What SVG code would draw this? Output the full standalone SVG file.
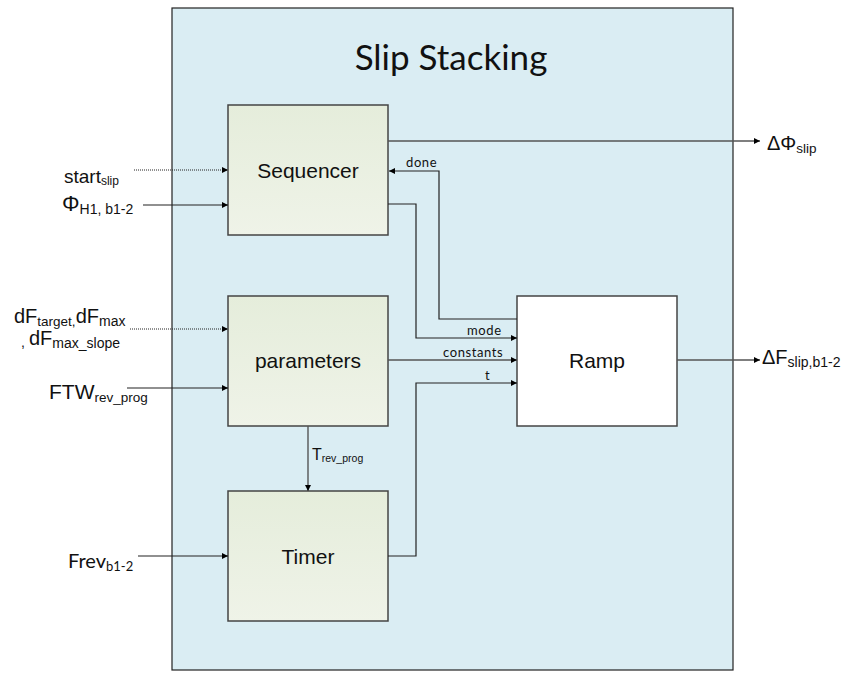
<svg xmlns="http://www.w3.org/2000/svg" width="852" height="678" viewBox="0 0 852 678">
  <defs>
    <linearGradient id="blockFill" x1="0" y1="0" x2="0" y2="1">
      <stop offset="0" stop-color="#e5eddb"/>
      <stop offset="1" stop-color="#eff3e8"/>
    </linearGradient>
    <marker id="arrow" viewBox="0 0 10 10" refX="10" refY="5" markerWidth="6" markerHeight="8" markerUnits="userSpaceOnUse" orient="auto">
      <path d="M0,0 L10,5 L0,10 z" fill="#000"/>
    </marker>
    <style>
      .frame { fill: #daedf3; stroke: #222; stroke-width: 1.2; }
      .block { fill: url(#blockFill); stroke: #444; stroke-width: 1.5; }
      .ramp { fill: #ffffff; stroke: #444; stroke-width: 1.5; }
      .blabel { font-family: "Liberation Sans", Arial, sans-serif; font-size: 21px; fill: #111; text-anchor: middle; }
      .title { font-family: Lato, "Open Sans", sans-serif; font-size: 35px; fill: #111; text-anchor: middle; }
      .wire { fill: none; stroke: #222; stroke-width: 1.2; }
      .wire2 { fill: none; stroke: #555; stroke-width: 1.4; }
      .dotted { fill: none; stroke: #222; stroke-width: 1; stroke-dasharray: 1 1; }
      .sig { font-family: Lato, "Open Sans", sans-serif; font-size: 13px; fill: #111; letter-spacing: 0.6px; }
      .arial { font-family: "Liberation Sans", Arial, sans-serif; fill: #111; }
      .calib { font-family: Lato, "Open Sans", sans-serif; fill: #111; }
    </style>
  </defs>

  <!-- enclosing frame -->
  <g id="slip-stacking">
    <rect class="frame" x="172" y="8" width="561" height="662"/>
    <text class="title" x="451" y="70">Slip Stacking</text>
  </g>

  <!-- function blocks -->
  <g id="sequencer">
    <rect class="block" x="228" y="105" width="160" height="130"/>
    <text class="blabel" x="308" y="178">Sequencer</text>
  </g>
  <g id="parameters">
    <rect class="block" x="228" y="296" width="160" height="130"/>
    <text class="blabel" x="308" y="368">parameters</text>
  </g>
  <g id="timer">
    <rect class="block" x="228" y="491" width="160" height="130"/>
    <text class="blabel" x="308" y="564">Timer</text>
  </g>
  <g id="ramp">
    <rect class="ramp" x="517" y="296" width="160" height="130"/>
    <text class="blabel" x="597" y="368">Ramp</text>
  </g>

  <!-- connectors -->
  <g id="connectors">
    <!-- external inputs -->
    <line class="dotted" x1="134" y1="170" x2="228" y2="170" marker-end="url(#arrow)"/>
    <line class="wire" x1="143" y1="205" x2="228" y2="205" marker-end="url(#arrow)"/>
    <line class="dotted" x1="130" y1="329" x2="228" y2="329" marker-end="url(#arrow)"/>
    <line class="wire" x1="127" y1="388" x2="228" y2="388" marker-end="url(#arrow)"/>
    <line class="wire" x1="138" y1="556" x2="228" y2="556" marker-end="url(#arrow)"/>

    <!-- sequencer phase output -->
    <line class="wire2" x1="388" y1="141" x2="760" y2="141" marker-end="url(#arrow)"/>
    <!-- done: ramp back to sequencer -->
    <polyline class="wire" points="517,319 439,319 439,171 389,171" marker-end="url(#arrow)"/>
    <!-- mode -->
    <polyline class="wire" points="388,204 416,204 416,338 517,338" marker-end="url(#arrow)"/>
    <!-- constants -->
    <line class="wire2" x1="388" y1="360" x2="517" y2="360" marker-end="url(#arrow)"/>
    <!-- t -->
    <polyline class="wire" points="388,556 416,556 416,383 517,383" marker-end="url(#arrow)"/>
    <!-- revolution period to timer -->
    <line class="wire2" x1="308" y1="426" x2="308" y2="491" marker-end="url(#arrow)"/>
    <!-- ramp output -->
    <line class="wire2" x1="677" y1="360" x2="760" y2="360" marker-end="url(#arrow)"/>

    <!-- signal names -->
    <text class="sig" x="406" y="167">done</text>
    <text class="sig" x="467" y="335">mode</text>
    <text class="sig" x="443" y="357">constants</text>
    <text class="sig" x="485" y="380">t</text>
    <text class="arial" x="312" y="460" font-size="16">T<tspan font-size="10.5" dy="2">rev_prog</tspan></text>
  </g>

  <!-- port labels -->
  <g id="labels">
    <text class="arial" x="64" y="183" font-size="19">start<tspan font-size="12" dy="2">slip</tspan></text>
    <text class="arial" x="62" y="211" font-size="22">Φ<tspan font-size="14" dy="3">H1, b1-2</tspan></text>
    <text class="arial" x="14" y="323" font-size="20">dF<tspan font-size="13.5" dy="3">target,</tspan><tspan dy="-3">dF</tspan><tspan font-size="14" dy="3">max</tspan></text>
    <text class="arial" x="21" y="347" font-size="14">, <tspan font-size="20" x="29" dy="-2">dF</tspan><tspan font-size="14" dy="3">max_slope</tspan></text>
    <text class="arial" x="49" y="399" font-size="21">FTW<tspan font-size="13.5" dy="3">rev_prog</tspan></text>
    <text class="calib" x="68" y="568" font-size="20">Frev<tspan font-size="13" dy="3">b1-2</tspan></text>
    <text class="arial" x="767" y="150" font-size="20">ΔΦ<tspan font-size="13.5" dy="3">slip</tspan></text>
    <text class="arial" x="762" y="364" font-size="20">ΔF<tspan font-size="14" dy="3">slip,b1-2</tspan></text>
  </g>
</svg>
